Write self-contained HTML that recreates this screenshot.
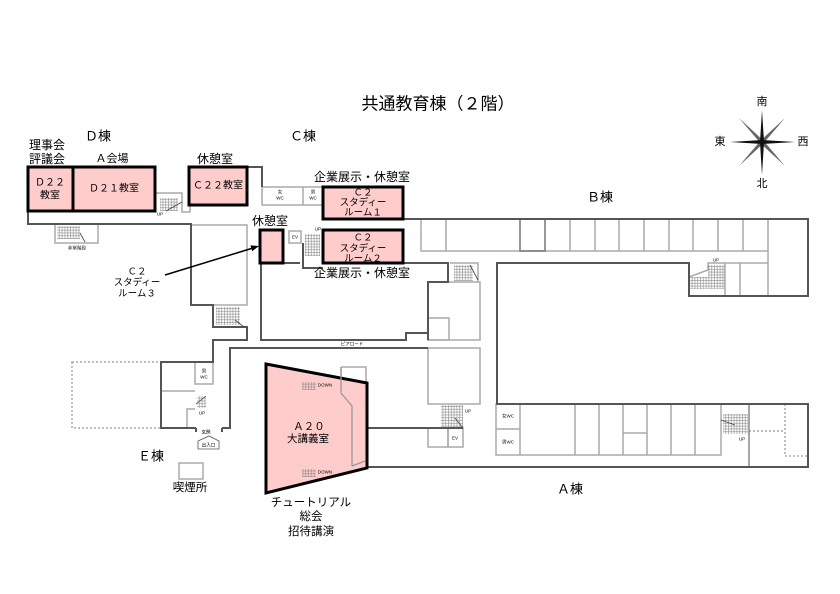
<!DOCTYPE html>
<html><head><meta charset="utf-8">
<style>
html,body{margin:0;padding:0;background:#fff;}
svg{display:block;}
text{font-family:"Liberation Sans","Noto Sans CJK JP",sans-serif;fill:#000;}
</style></head><body>
<svg width="840" height="594" viewBox="0 0 840 594" xmlns="http://www.w3.org/2000/svg">
<defs>
<pattern id="st" width="2.8" height="2.8" patternUnits="userSpaceOnUse">
<path d="M0,0.5H2.8M0.5,0V2.8" stroke="#888" stroke-width="0.6" fill="none"/>
</pattern>
</defs>
<rect width="840" height="594" fill="#fff"/>

<!-- gray walls -->
<g fill="none" stroke="#aaa" stroke-width="1.5">
  <path d="M155,193H182V212H190V205"/>
  <rect x="55" y="224" width="43" height="19"/>
  <rect x="191" y="225" width="56" height="80"/>
  <rect x="262" y="187" width="61" height="18"/>
  <path d="M303,187V205"/>
  <rect x="289" y="231" width="12" height="12"/>
  <rect x="421" y="219" width="347" height="32"/>
  <path d="M446,219V251M570,219V251M595,219V251M619,219V251M644,219V251M669,219V251M693,219V251M718,219V251M743,219V251"/>
  <path d="M768,251V296"/>
  <path d="M725,263V296M740,263V296M725,263H768"/>
  <path d="M689,277L708,270V263H725"/>
  <rect x="428" y="282" width="52" height="58"/>
  <rect x="428" y="318" width="21" height="22"/>
  <rect x="428" y="348" width="52" height="56"/>
  <path d="M450,263H478V282"/>
  <rect x="428" y="428" width="20" height="19"/>
  <rect x="448" y="428" width="15" height="19"/>
  <rect x="496" y="404" width="225" height="51"/>
  <path d="M520,404V455M575,404V455M599,404V455M623,404V455M647,404V455M671,404V455M695,404V455M496,429H520M623,433H647"/>
  <path d="M341,367H366V383M341,367V393L352,406V467M352,466L366,461"/>
  <rect x="195" y="362" width="18" height="22"/>
  <path d="M161,391H195"/>
  <path d="M187,428V409H195"/>
  <rect x="179" y="463" width="24" height="16"/>
</g>
<path d="M749,404V467" stroke="#888" stroke-width="1.5" fill="none"/>
<path d="M520,219V251H545V219" stroke="#777" stroke-width="1.5" fill="none"/>
<!-- dotted -->
<g fill="none" stroke="#aaa" stroke-width="1.5" stroke-dasharray="2,2">
  <rect x="72" y="362" width="89" height="66"/>
  <path d="M785,404V456H808"/>
</g>
<path d="M749,431H785" stroke="#777" stroke-width="1" stroke-dasharray="2,2" fill="none"/>

<!-- dark walls -->
<g fill="none" stroke="#555" stroke-width="2">
  <path d="M28,211V224H191V305H213V327H247V340H213V362H161V428H196"/>
  <path d="M196,428V432M222,428V432M222,428H230V348H428"/>
  <path d="M247,167H262V187"/>
  <path d="M261,263V340H406V333H428V282H448V263H403"/>
  <path d="M428,333V340"/>
  <path d="M403,219H808V296H689V263H497V404H808V467H367"/>
  <path d="M367,428H463"/>
  <path d="M283,263H300M303,243V268H323"/>
</g>

<!-- stairs -->
<g fill="url(#st)" stroke="none">
  <rect x="160" y="198" width="18" height="13"/>
  <rect x="57" y="226" width="23" height="13"/>
  <rect x="216" y="307" width="24" height="18"/>
  <rect x="305" y="234" width="15" height="22"/>
  <rect x="454" y="265" width="19" height="16"/>
  <rect x="690" y="277" width="35" height="12"/>
  <rect x="708" y="265" width="17" height="12"/>
  <rect x="441" y="405" width="22" height="22"/>
  <rect x="723" y="414" width="25" height="20"/>
  <rect x="197" y="396" width="9" height="12"/>
</g>
<g stroke="#444" stroke-width="0.8" fill="none">
  <path d="M166,211L182,202"/>
  <path d="M80,233L85,242"/>
  <path d="M235,320L244,327"/>
  <path d="M470,265L478,280"/>
  <path d="M455,418L463,428"/>
  <path d="M721,420L735,425"/>
  <path d="M196,404L206,396"/>
</g>

<!-- pink rooms -->
<g fill="#ffcccc" stroke="#000" stroke-width="3">
  <rect x="28" y="167" width="45" height="44"/>
  <rect x="73" y="167" width="82" height="44"/>
  <rect x="189" y="167" width="58" height="38"/>
  <rect x="323" y="187" width="80" height="32"/>
  <rect x="323" y="230" width="80" height="33"/>
  <rect x="260" y="230" width="23" height="33"/>
  <polygon points="266,364 367,383 367,468 266,493"/>
</g>
<!-- A20 inner gray lines (over fill) -->
<path d="M341,367V393L352,406V466M352,466L365,461" stroke="#999" stroke-width="1.3" fill="none"/>
<g fill="url(#st)">
  <rect x="302" y="382" width="14" height="8"/>
  <rect x="302" y="469" width="14" height="8"/>
</g>

<!-- arrow -->
<line x1="165" y1="275" x2="253" y2="248" stroke="#000" stroke-width="1.5"/>
<polygon points="259,246 252.2,251.2 250.4,245.4" fill="#000"/>

<!-- compass -->
<g>
  <polygon points="739,118 763.4,140.6 785,166 760.6,143.4" fill="#666"/>
  <polygon points="785,118 763.4,143.4 739,166 760.6,140.6" fill="#666"/>
  <polygon points="762,110 764,142 762,175 760,142" fill="#111"/>
  <polygon points="730,142 762,144 795,142 762,140" fill="#111"/>
</g>

<!-- labels -->
<g dominant-baseline="central" text-anchor="middle">
  <text x="438" y="104" font-size="17">共通教育棟（２階）</text>
  <text x="98" y="136" font-size="13">Ｄ棟</text>
  <text x="303" y="136" font-size="13">Ｃ棟</text>
  <text x="600" y="197" font-size="13">Ｂ棟</text>
  <text x="570" y="489" font-size="13">Ａ棟</text>
  <text x="151" y="456" font-size="13">Ｅ棟</text>
  <text x="47" y="145" font-size="12">理事会</text>
  <text x="47" y="159" font-size="12">評議会</text>
  <text x="112" y="159" font-size="11">Ａ会場</text>
  <text x="215" y="159" font-size="12">休憩室</text>
  <text x="50" y="183" font-size="10">Ｄ２２</text>
  <text x="50" y="196" font-size="10">教室</text>
  <text x="114" y="189" font-size="10">Ｄ２１教室</text>
  <text x="218" y="186" font-size="10">Ｃ２２教室</text>
  <text x="362" y="177" font-size="12">企業展示・休憩室</text>
  <text x="362" y="273" font-size="12">企業展示・休憩室</text>
  <text x="363" y="193" font-size="9.5">Ｃ２</text>
  <text x="363" y="203" font-size="9.5">スタディー</text>
  <text x="363" y="213" font-size="9.5">ルーム１</text>
  <text x="363" y="238" font-size="9.5">Ｃ２</text>
  <text x="363" y="249" font-size="9.5">スタディー</text>
  <text x="363" y="259" font-size="9.5">ルーム２</text>
  <text x="270" y="221" font-size="12">休憩室</text>
  <text x="137" y="272" font-size="9.5">Ｃ２</text>
  <text x="137" y="283" font-size="9.5">スタディー</text>
  <text x="137" y="294" font-size="9.5">ルーム３</text>
  <text x="309" y="427" font-size="10.5">Ａ２０</text>
  <text x="308" y="439" font-size="10.5">大講義室</text>
  <text x="311" y="503" font-size="11.5">チュートリアル</text>
  <text x="311" y="517" font-size="11.5">総会</text>
  <text x="311" y="532" font-size="11.5">招待講演</text>
  <text x="190" y="488" font-size="11.5">喫煙所</text>
  <text x="762" y="102" font-size="11">南</text>
  <text x="720" y="142" font-size="11">東</text>
  <text x="803" y="142" font-size="11">西</text>
  <text x="762" y="184" font-size="11">北</text>
</g>
<!-- tiny labels -->
<g dominant-baseline="central" text-anchor="middle" font-size="4.5">
  <text x="280" y="192">女</text><text x="280" y="198">WC</text>
  <text x="313" y="192">男</text><text x="313" y="198">WC</text>
  <text x="295" y="237">EV</text>
  <text x="318" y="229">UP</text>
  <text x="160" y="214">UP</text>
  <text x="77" y="248">非常階段</text>
  <text x="716" y="260">UP</text>
  <text x="352" y="344">ピアロード</text>
  <text x="325" y="385">DOWN</text>
  <text x="325" y="472">DOWN</text>
  <text x="468" y="411">UP</text>
  <text x="455" y="438">EV</text>
  <text x="508" y="416">女WC</text>
  <text x="508" y="442">男WC</text>
  <text x="742" y="439">UP</text>
  <text x="204" y="371">男</text><text x="204" y="377">WC</text>
  <text x="202" y="413">UP</text>
  <text x="206" y="432">玄関</text>
  <text x="208.5" y="445">出入口</text>
</g>
<polygon points="198,441 209,436 219,441 219,449 198,449" fill="none" stroke="#555" stroke-width="0.8"/>
</svg>
</body></html>
